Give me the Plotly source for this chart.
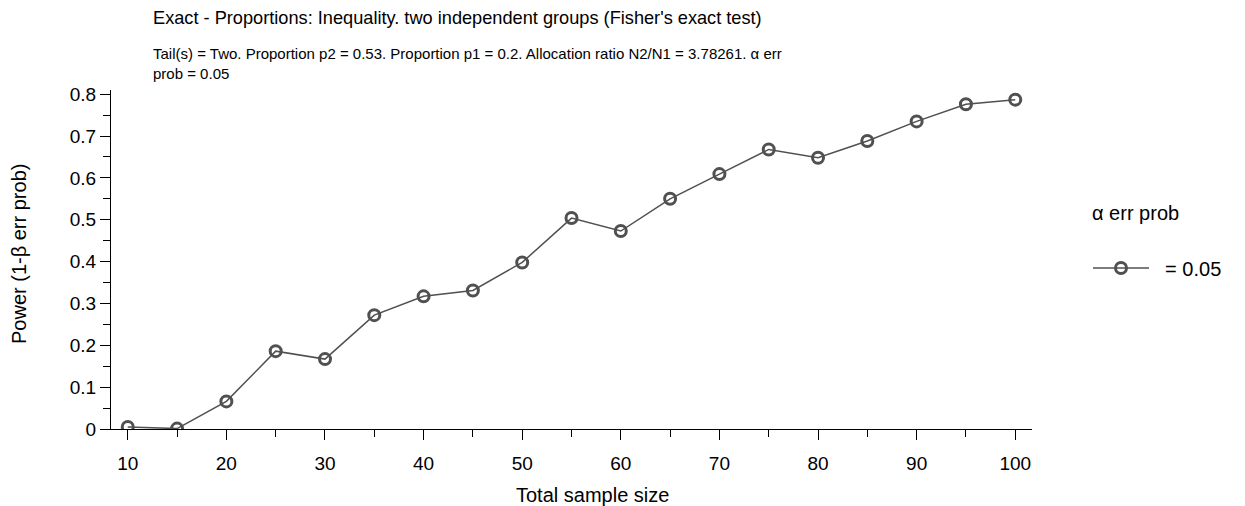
import plotly.graph_objects as go

sample_size = [10, 15, 20, 25, 30, 35, 40, 45, 50, 55, 60, 65, 70, 75, 80, 85, 90, 95, 100]
power = [0.005, 0.001, 0.066, 0.186, 0.167, 0.272, 0.317, 0.331, 0.398, 0.504, 0.473,
         0.550, 0.609, 0.668, 0.648, 0.688, 0.735, 0.776, 0.787]
series_name = "\u00a0\u00a0= 0.05"
legend_title = "α err prob"
title = "Exact - Proportions: Inequality. two independent groups (Fisher's exact test)"
subtitle = ("Tail(s) = Two. Proportion p2 = 0.53. Proportion p1 = 0.2. Allocation ratio N2/N1 = 3.78261. α err<br>"
            "prob = 0.05")
x_title = "Total sample size"
y_title = "Power (1-β err prob)"
x_ticks = [10, 20, 30, 40, 50, 60, 70, 80, 90, 100]
y_ticks = [0, 0.1, 0.2, 0.3, 0.4, 0.5, 0.6, 0.7, 0.8]

FONT = "Liberation Sans, Arial, sans-serif"
col = "#505050"
L, R, T, B = 111, 213, 90, 77
W, H = 1245, 506
PW, PH = W - L - R, H - T - B


def px_x(p):
    return (p - L) / PW


def px_y(p):
    return (H - B - p) / PH


fig = go.Figure()
fig.add_trace(go.Scatter(
    x=sample_size, y=power, name=series_name, mode="lines+markers",
    line=dict(color=col, width=1.5),
    marker=dict(symbol="circle-open", size=11, color=col, line=dict(width=3, color=col)),
))

fig.update_layout(
    width=W, height=H,
    margin=dict(l=L, r=R, t=T, b=B),
    paper_bgcolor="white", plot_bgcolor="white",
    font=dict(family=FONT, size=19, color="black"),
    showlegend=True,
    legend=dict(x=px_x(1088), xanchor="left", xref="paper", y=px_y(268), yanchor="middle",
                font=dict(size=20), itemwidth=56, bgcolor="rgba(0,0,0,0)"),
    xaxis=dict(range=[8.3, 101.7], tickvals=x_ticks, ticks="outside", ticklen=10,
               tickcolor="black", showline=True, linecolor="black", linewidth=1.3,
               showgrid=False, zeroline=False, ticklabelstandoff=7, automargin=False,
               minor=dict(dtick=5, tick0=0, ticks="outside", ticklen=7, tickcolor="black"),
               tickfont=dict(size=19)),
    yaxis=dict(range=[0, 0.81], tickvals=y_ticks, ticks="outside", ticklen=10,
               tickcolor="black", showline=True, linecolor="black", linewidth=1.3,
               showgrid=False, zeroline=False, automargin=False,
               minor=dict(dtick=0.05, tick0=0, ticks="outside", ticklen=7, tickcolor="black"),
               tickfont=dict(size=19)),
)
fig.add_annotation(text=title, xref="paper", yref="paper", x=px_x(151), y=px_y(18),
                   xanchor="left", yanchor="middle", showarrow=False, font=dict(size=18.2))
fig.add_annotation(text=subtitle, xref="paper", yref="paper", x=px_x(151), y=px_y(63),
                   xanchor="left", yanchor="middle", align="left",
                   showarrow=False, font=dict(size=15))
fig.add_annotation(text=legend_title, xref="paper", yref="paper", x=px_x(1090), y=px_y(213),
                   xanchor="left", yanchor="middle", showarrow=False, font=dict(size=20))
fig.add_annotation(text=x_title, xref="paper", yref="paper", x=px_x(592), y=px_y(495),
                   xanchor="center", yanchor="middle", showarrow=False, font=dict(size=20))
fig.add_annotation(text=y_title, xref="paper", yref="paper", x=px_x(19), y=px_y(254),
                   xanchor="center", yanchor="middle", textangle=-90, showarrow=False,
                   font=dict(size=20))

fig.write_html("out.html", config={"displayModeBar": False},
               post_script="document.body.style.margin='0';")
